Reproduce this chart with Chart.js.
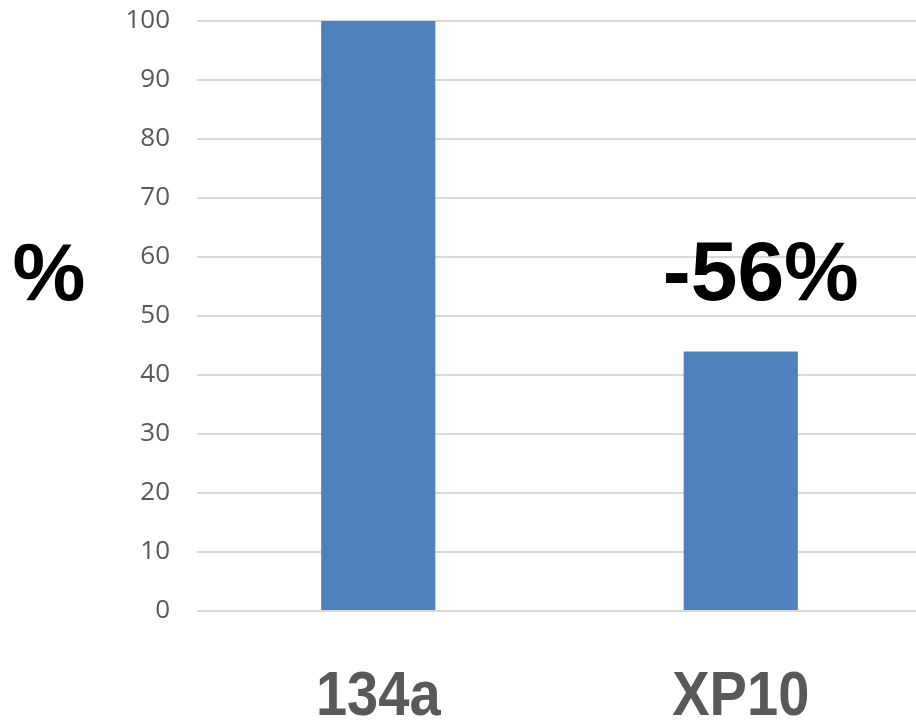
<!DOCTYPE html>
<html>
<head>
<meta charset="utf-8">
<script src="https://cdn.jsdelivr.net/npm/chart.js@4/dist/chart.umd.min.js"></script>
<style>
	html, body { margin: 0; padding: 0; background: #ffffff; overflow: hidden; }
	#clip { width: 916px; height: 721px; overflow: hidden; }
	#wrap { width: 922px; height: 721px; }
</style>
</head>
<body>
<div id="clip"><div id="wrap"><canvas id="chart-reduction"></canvas></div></div>
<script>
var categories = ["134a", "XP10"];
var values = [100, 44];
var yTicks = [0, 10, 20, 30, 40, 50, 60, 70, 80, 90, 100];
var changeLabel = "-56%";
var unitLabel = "%";

var BAR_COLOR = "#4f81bd";
var GRID_COLOR = "#d9d9d9";
var TICK_COLOR = "#595959";

// Draws the big "%" unit, the change note and the condensed category labels
var overlayText = {
	id: "overlayText",
	afterDatasetsDraw: function(chart) {
		var ctx = chart.ctx;
		var xScale = chart.scales.x;
		var yScale = chart.scales.y;

		ctx.save();
		ctx.fillStyle = "#000000";
		ctx.textBaseline = "alphabetic";
		ctx.textAlign = "center";

		ctx.font = "bold 82px 'Liberation Sans', Arial, sans-serif";
		ctx.fillText(unitLabel, 49, yScale.getPixelForValue(52.7));

		ctx.font = "bold 84px 'Liberation Sans', Arial, sans-serif";
		ctx.fillText(changeLabel, xScale.getPixelForValue(1) + 20, yScale.getPixelForValue(52.7));

		// Category labels: squeezed horizontally like the original narrow face
		ctx.fillStyle = TICK_COLOR;
		ctx.font = "bold 63px 'Liberation Sans', Arial, sans-serif";
		for (var i = 0; i < categories.length; ++i) {
			var cx = xScale.getPixelForValue(i);
			ctx.save();
			ctx.translate(cx, 715);
			ctx.scale(0.89, 1);
			ctx.fillText(categories[i], 0, 0);
			ctx.restore();
		}
		ctx.restore();
	}
};

var ctx = document.getElementById("chart-reduction").getContext("2d");
var chart = new Chart(ctx, {
	type: "bar",
	data: {
		labels: categories,
		datasets: [
			{
				data: values,
				backgroundColor: BAR_COLOR,
				barPercentage: 0.315,
				categoryPercentage: 1
			}
		]
	},
	options: {
		responsive: true,
		maintainAspectRatio: false,
		animation: false,
		layout: { padding: { top: 21, right: 0, left: 0, bottom: 0 } },
		plugins: {
			legend: { display: false },
			tooltip: { enabled: false }
		},
		scales: {
			x: {
				grid: { display: false, drawTicks: false },
				border: { display: false },
				ticks: { display: false },
				afterFit: function(scale) {
					scale.height = 110;
				}
			},
			y: {
				min: 0,
				max: 100,
				afterBuildTicks: function(scale) {
					scale.ticks = yTicks.map(function(v) { return { value: v }; });
				},
				grid: { color: GRID_COLOR, lineWidth: 2, drawTicks: false },
				border: { display: false },
				ticks: {
					color: TICK_COLOR,
					padding: 27,
					font: { family: "'Open Sans', 'Liberation Sans', sans-serif", size: 26 }
				},
				afterFit: function(scale) {
					scale.width = 197;
					scale.paddingTop = 0;
					scale.paddingBottom = 0;
				}
			}
		}
	},
	plugins: [overlayText]
});
</script>
</body>
</html>
